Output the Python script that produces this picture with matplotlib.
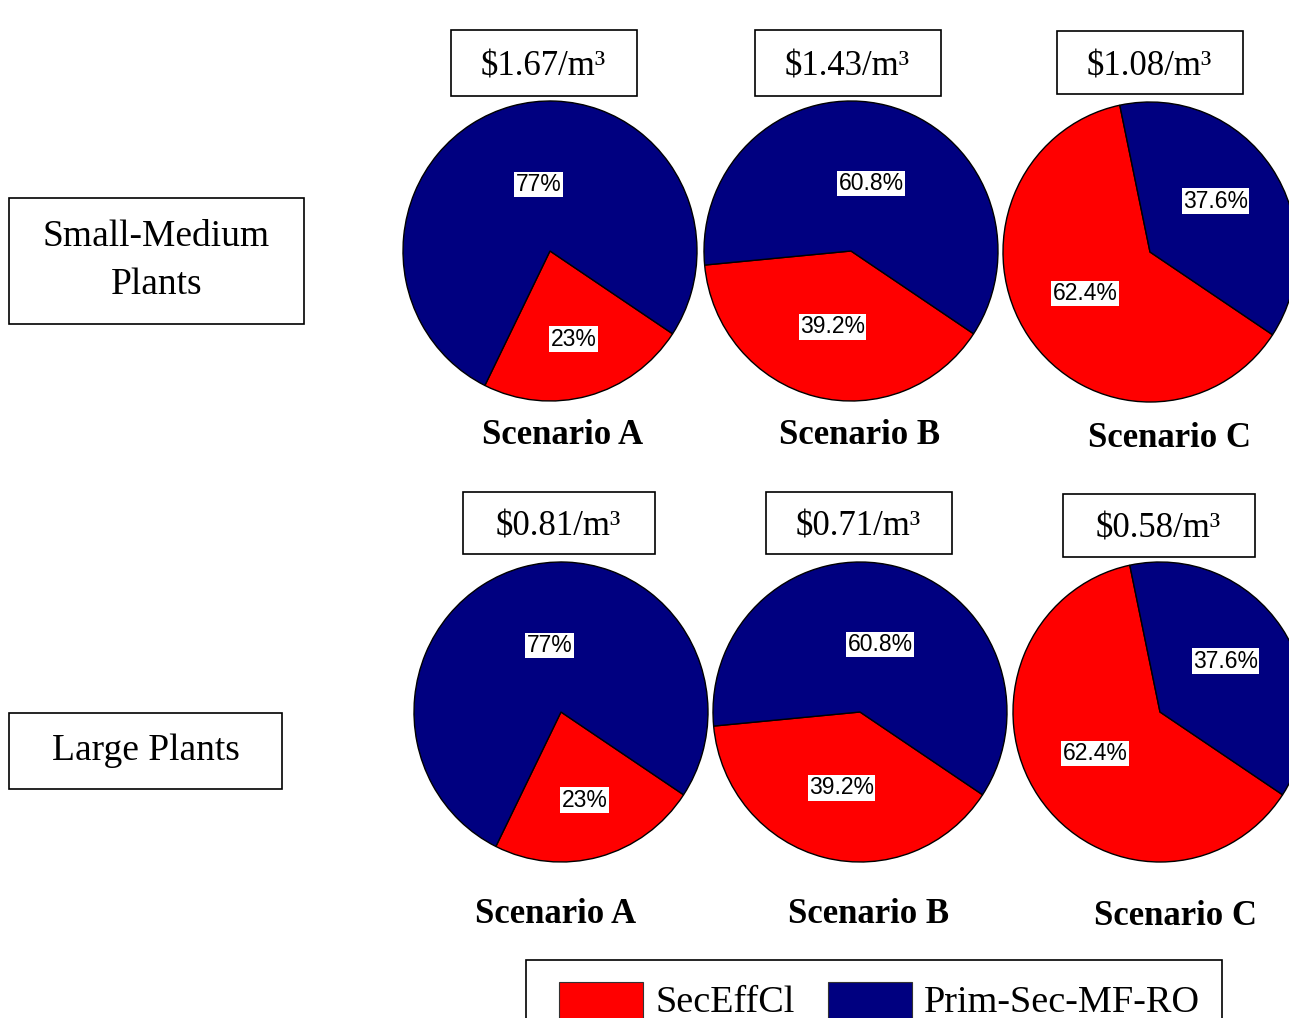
import matplotlib
matplotlib.use("Agg")
import matplotlib.pyplot as plt
from matplotlib.patches import Rectangle
import numpy as np

# cost split per treatment train (percent of total unit cost)
SCENARIOS = ["Scenario A", "Scenario B", "Scenario C"]
SERIES = ["SecEffCl", "Prim-Sec-MF-RO"]
SEC_EFF_CL = [23.0, 39.2, 62.4]
PRIM_SEC_MF_RO = [77.0, 60.8, 37.6]

ROW_LABELS = ["Small-Medium\nPlants", "Large Plants"]
COST_SMALL = [1.67, 1.43, 1.08]   # $/m3
COST_LARGE = [0.81, 0.71, 0.58]   # $/m3

COLORS = ["#FF0000", "#000080"]
SERIF = ["Liberation Serif", "DejaVu Serif"]
SANS = ["Liberation Sans", "DejaVu Sans"]

W, H = 1289, 1018
RX, RY = 147, 150
K = RX / RY          # pies come out slightly taller than wide


def Y(py):
    return (H - py) * K


fig = plt.figure(figsize=(W / 100, H / 100), dpi=100)
ax = fig.add_axes([0, 0, 1, 1])

# layout in pixel space (x right, y down)
pie_centers = [[(550, 251), (851, 251), (1150, 252)],
               [(561, 712), (860, 712), (1160, 712)]]
label_dist = [(0.61, 0.45), (0.52, 0.47), (0.52, 0.56)]
label_turn = [(0, -5), (0, -3), (-2, 3)]   # nudge along the arc, degrees
cost_boxes = [[(451, 30, 186, 66), (755, 30, 186, 66), (1057, 31, 186, 63)],
              [(463, 492, 192, 62), (766, 492, 186, 62), (1063, 494, 192, 63)]]
scen_pos = [[(563, 444), (860, 444), (1169, 447)],
            [(556, 923), (869, 923), (1176, 925)]]
row_boxes = [(9, 198, 295, 126), (9, 713, 273, 76)]
costs = [COST_SMALL, COST_LARGE]

for r in range(2):
    for i in range(3):
        cx, cy = pie_centers[r][i]
        vals = [SEC_EFF_CL[i], PRIM_SEC_MF_RO[i]]
        wedges, _ = ax.pie(vals, colors=COLORS, startangle=-33.5,
                           counterclock=False, center=(cx, Y(cy)), radius=RX,
                           wedgeprops=dict(edgecolor="black", linewidth=1.0))
        for w, v, d, t in zip(wedges, vals, label_dist[i], label_turn[i]):
            mid = np.deg2rad((w.theta1 + w.theta2) / 2 + t)
            ax.text(cx + d * RX * np.cos(mid), Y(cy) + d * RX * np.sin(mid),
                    f"{v:g}%", family=SANS, fontsize=16.5, ha="center",
                    va="center", color="black",
                    bbox=dict(facecolor="white", edgecolor="none", pad=1.0))

        bx, by, bw, bh = cost_boxes[r][i]
        ax.add_patch(Rectangle((bx, Y(by + bh)), bw, bh * K, facecolor="white",
                               edgecolor="black", linewidth=1.2))
        ax.text(bx + bw / 2 - 1, Y(by + bh / 2 + 4), f"${costs[r][i]:.2f}/m\u00b3",
                family=SERIF, fontsize=25, ha="center", va="center")

        sx, sy = scen_pos[r][i]
        ax.text(sx, Y(sy), SCENARIOS[i], family=SERIF, fontsize=25,
                weight="bold", ha="center", va="baseline")

    bx, by, bw, bh = row_boxes[r]
    ax.add_patch(Rectangle((bx, Y(by + bh)), bw, bh * K, facecolor="white",
                           edgecolor="black", linewidth=1.2))
    ax.text(bx + bw / 2, Y(by + bh / 2), ROW_LABELS[r], family=SERIF,
            fontsize=27, ha="center", va="center", linespacing=1.5)

# legend, running off the bottom edge
ax.add_patch(Rectangle((526, Y(1030)), 696, 70 * K, facecolor="white",
                       edgecolor="black", linewidth=1.2))
for (px, tx), color, name in zip([(559, 655), (828, 924)], COLORS, SERIES):
    ax.add_patch(Rectangle((px, Y(1030)), 84, 48 * K, facecolor=color,
                           edgecolor="#333333", linewidth=0.8))
    ax.text(tx, Y(1012), name, family=SERIF, fontsize=27.5, ha="left",
            va="baseline")

ax.set_aspect("auto")
ax.set_xlim(0, W)
ax.set_ylim(0, H * K)
ax.axis("off")

fig.savefig("out.png", dpi=100, facecolor="white")
